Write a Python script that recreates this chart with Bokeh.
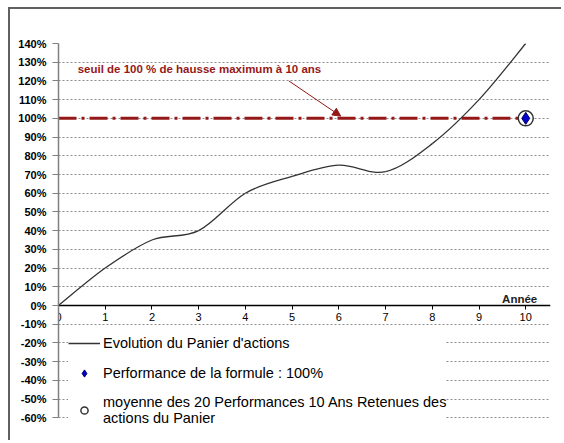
from bokeh.plotting import figure
from bokeh.models import (LinearAxis, FixedTicker, NumeralTickFormatter, Range1d,
                          Legend, LegendItem, Label, Arrow, NormalHead, ColumnDataSource, Grid)
from bokeh.embed import file_html
from bokeh.resources import INLINE

# ---- data ----
years = [0, 1, 2, 3, 4, 5, 6, 7, 8, 9, 10]
panier = [0.00, 0.20, 0.35, 0.40, 0.60, 0.69, 0.75, 0.715, 0.865, 1.10, 1.40]
seuil = 1.00
formule_year = [10]
formule_perf = [1.00]
moyenne_year = [10]
moyenne_perf = [1.00]
y_ticks = [-0.6, -0.5, -0.4, -0.3, -0.2, -0.1, 0.0, 0.1, 0.2, 0.3, 0.4, 0.5,
           0.6, 0.7, 0.8, 0.9, 1.0, 1.1, 1.2, 1.3, 1.4]
x_ticks = years

label_serie = "Evolution du Panier d'actions"
label_formule = "Performance de la formule : 100%"
label_moyenne = "moyenne des 20 Performances 10 Ans Retenues des\nactions du Panier"
label_seuil = "seuil de 100 % de hausse maximum à 10 ans"

FONT = "Liberation Sans"
RED = "#941818"

p = figure(width=553, height=433, output_backend="svg", toolbar_location=None,
           x_range=Range1d(0, 10.53), y_range=Range1d(-0.70, 1.4),
           x_axis_location=None, y_axis_location=None,
           min_border_left=48, min_border_top=34, min_border_right=13, min_border_bottom=6,
           background_fill_color="white", border_fill_color="white")
p.outline_line_color = None
p.xgrid.visible = False
p.ygrid.visible = False
p.styles = {"margin-left": "8px", "margin-top": "7px",
            "border-top": "2px solid #606060", "border-left": "2px solid #606060"}

# y axis
yax = LinearAxis(ticker=FixedTicker(ticks=y_ticks), formatter=NumeralTickFormatter(format="0%"),
                 bounds=(y_ticks[0], y_ticks[-1]))
yax.axis_line_color = "#808080"
yax.axis_line_width = 1.5
yax.major_tick_line_color = "#808080"
yax.major_tick_out = 6
yax.major_tick_in = 0
yax.minor_tick_line_color = None
yax.major_label_standoff = 6
yax.major_label_text_font = FONT
yax.major_label_text_font_size = "11px"
yax.major_label_text_font_style = "bold"
yax.major_label_text_color = "black"
p.add_layout(yax, "left")

grid = Grid(dimension=1, ticker=yax.ticker, grid_line_color="#8c8c8c",
            grid_line_dash="2 2", grid_line_width=1)
p.add_layout(grid)

# x axis crossing at 0 (labels drawn below the line)
xax = LinearAxis(ticker=FixedTicker(ticks=x_ticks), fixed_location=0)
xax.axis_line_color = "black"
xax.axis_line_width = 1.5
xax.major_tick_line_color = "black"
xax.major_tick_out = 0
xax.major_tick_in = 4
xax.minor_tick_line_color = None
xax.major_label_standoff = -15
xax.major_label_text_font = FONT
xax.major_label_text_font_size = "11px"
xax.major_label_text_color = "black"
p.add_layout(xax, "above")

# threshold line
r_seuil = p.line([years[0], years[-1]], [seuil, seuil], line_color=RED, line_width=3,
                 line_dash="18 5 3 5")

# smoothed curve (Bezier segments built from the data points)
n = len(years)
x0, y0, x1, y1, cx0, cy0, cx1, cy1 = [], [], [], [], [], [], [], []
for i in range(n - 1):
    pa = (years[max(i - 1, 0)], panier[max(i - 1, 0)])
    pb = (years[i], panier[i])
    pc = (years[i + 1], panier[i + 1])
    pd = (years[min(i + 2, n - 1)], panier[min(i + 2, n - 1)])
    x0.append(pb[0]); y0.append(pb[1]); x1.append(pc[0]); y1.append(pc[1])
    cx0.append(pb[0] + (pc[0] - pa[0]) / 6); cy0.append(pb[1] + (pc[1] - pa[1]) / 6)
    cx1.append(pc[0] - (pd[0] - pb[0]) / 6); cy1.append(pc[1] - (pd[1] - pb[1]) / 6)
src = ColumnDataSource(dict(x0=x0, y0=y0, x1=x1, y1=y1, cx0=cx0, cy0=cy0, cx1=cx1, cy1=cy1))
r_curve = p.bezier(x0="x0", y0="y0", x1="x1", y1="y1", cx0="cx0", cy0="cy0", cx1="cx1", cy1="cy1",
                   source=src, line_color="#333333", line_width=1.3)

r_moy = p.scatter(moyenne_year, moyenne_perf, marker="circle", size=15, fill_color="white",
                  line_color="#333333", line_width=1.5)
r_form = p.scatter(formule_year, formule_perf, marker="diamond", size=12, fill_color="#0000cc",
                   line_color="#000060", line_width=1)

# annotation
p.add_layout(Label(x=0.41, y=1.262, text=label_seuil, text_baseline="middle",
                   text_font=FONT, text_font_size="11.5px", text_font_style="bold",
                   text_color=RED))
p.add_layout(Arrow(end=NormalHead(size=8, fill_color=RED, line_color=RED),
                   x_start=4.93, y_start=1.20, x_end=6.04, y_end=1.012,
                   line_color=RED, line_width=1))
p.add_layout(Label(x=9.87, y=0, y_offset=7, text="Année", text_align="center",
                   text_baseline="alphabetic", text_font=FONT, text_font_size="11.5px",
                   text_font_style="bold", text_color="#222222"))

legend = Legend(items=[LegendItem(label=label_serie, renderers=[r_curve]),
                       LegendItem(label=label_formule, renderers=[r_form]),
                       LegendItem(label=label_moyenne, renderers=[r_moy])],
                location=(10, 10))
legend.background_fill_color = "white"
legend.background_fill_alpha = 1
legend.border_line_color = None
legend.glyph_width = 32
legend.glyph_height = 18
legend.label_standoff = 3
legend.padding = 4
legend.spacing = 12
legend.margin = 0
legend.label_text_font = FONT
legend.label_text_font_size = "14.5px"
legend.label_text_line_height = 1.1
legend.label_text_color = "black"
p.add_layout(legend, "center")

open("out.html", "w").write(file_html(p, INLINE))
